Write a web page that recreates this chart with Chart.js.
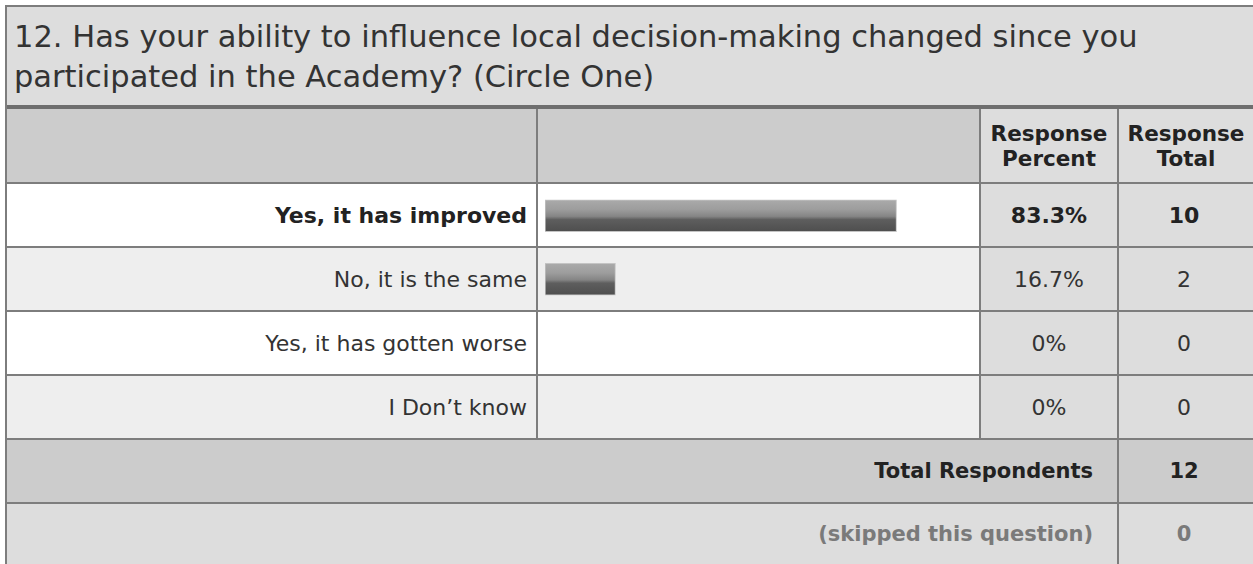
<!DOCTYPE html>
<html>
<head>
<meta charset="utf-8">
<script src="https://cdn.jsdelivr.net/npm/chart.js@4.4.1/dist/chart.umd.min.js"></script>
<style>
  html, body { margin: 0; padding: 0; background: #ffffff; }
  body { width: 1253px; height: 564px; position: relative; overflow: hidden; font-family: "DejaVu Sans", Verdana, sans-serif; }
  .abs { position: absolute; box-sizing: border-box; }
  .txt { position: absolute; box-sizing: border-box; white-space: nowrap; display: flex; align-items: center; }
</style>
</head>
<body>
<div id="root"></div>
<div id="chartBox" class="abs" style="left:538px; top:184px; width:441px; height:254px; z-index:5;">
  <canvas id="bars" width="441" height="254"></canvas>
</div>
<script>
// ---- data ----
const questionTitle = ["12. Has your ability to influence local decision-making changed since you",
                       "participated in the Academy? (Circle One)"];
const categories = ["Yes, it has improved", "No, it is the same", "Yes, it has gotten worse", "I Don\u2019t know"];
const responsePercent = [83.3, 16.7, 0, 0];
const responseTotal = [10, 2, 0, 0];
const headerPercent = ["Response", "Percent"];
const headerTotal = ["Response", "Total"];
const totalRespondents = 12;
const skippedQuestion = 0;

// ---- table frame ----
const root = document.getElementById('root');
function box(l, t, w, h, bg, z) {
  const d = document.createElement('div');
  d.className = 'abs';
  d.style.cssText = `left:${l}px;top:${t}px;width:${w}px;height:${h}px;background:${bg};z-index:${z||1};`;
  root.appendChild(d); return d;
}
function text(l, t, w, h, html, opts) {
  const d = document.createElement('div');
  d.className = 'txt';
  d.style.cssText = `left:${l}px;top:${t}px;width:${w}px;height:${h}px;z-index:10;` +
    `justify-content:${opts.align||'center'};font-size:${opts.size||22}px;font-weight:${opts.bold?'bold':'normal'};` +
    `color:${opts.color||'#333'};padding-right:${opts.pr||0}px;text-align:${opts.talign||'center'};line-height:${opts.lh||'normal'};`;
  d.innerHTML = html;
  root.appendChild(d); return d;
}

const W = 1253;
const xL = 7, c1 = 536, c2 = 979, c3 = 1117;
const LINE = '#7d7d7d';
// title band
box(xL, 7, W - xL, 98, '#dddddd');
const t = document.createElement('div');
t.className = 'abs';
t.style.cssText = 'left:14px;top:17px;font-size:30.5px;line-height:40px;color:#333;z-index:10;white-space:nowrap;';
t.innerHTML = questionTitle.join('<br>');
root.appendChild(t);

// header row
const hTop = 109, hBot = 182;
box(xL, hTop, c2 - xL, hBot - hTop, '#cccccc');
box(c2, hTop, W - c2, hBot - hTop, '#dddddd');
text(c2 + 2, hTop, c3 - c2 - 2, hBot - hTop, headerPercent.join('<br>'), {bold: true, size: 21.5, color: '#222', lh: '25px'});
text(c3 + 2, hTop, W - c3 - 2, hBot - hTop, headerTotal.join('<br>'), {bold: true, size: 21.5, color: '#222', lh: '25px'});

// data rows
const rowTops = [184, 248, 312, 376];
const rowH = 62;
const maxTotal = Math.max(...responseTotal);
categories.forEach((c, i) => {
  const top = rowTops[i];
  const bg = i % 2 === 0 ? '#ffffff' : '#eeeeee';
  const strong = responseTotal[i] === maxTotal;
  box(xL, top, c2 - xL, rowH, bg);
  box(c2, top, W - c2, rowH, '#dddddd');
  text(xL, top, c1 - xL, rowH, c, {align: 'flex-end', pr: 9, bold: strong, color: strong ? '#222' : '#333'});
  text(c2 + 2, top, c3 - c2 - 2, rowH, responsePercent[i] + '%', {bold: strong, color: strong ? '#222' : '#333'});
  text(c3 + 2, top, W - c3 - 2, rowH - 0, String(responseTotal[i]), {bold: strong, color: strong ? '#222' : '#333', pr: 4});
});

// total respondents row
box(xL, 440, W - xL, 62, '#cccccc');
text(xL, 440, c3 - xL, 62, 'Total Respondents', {align: 'flex-end', pr: 24, bold: true, size: 21, color: '#222'});
text(c3 + 2, 440, W - c3 - 2, 62, String(totalRespondents), {bold: true, size: 21, color: '#222', pr: 4});
// skipped row
box(xL, 504, W - xL, 60, '#dddddd');
text(xL, 504, c3 - xL, 60, '(skipped this question)', {align: 'flex-end', pr: 24, bold: true, size: 21, color: '#7a7a7a'});
text(c3 + 2, 504, W - c3 - 2, 60, String(skippedQuestion), {bold: true, size: 21, color: '#7a7a7a', pr: 4});

// grid lines
box(5, 5, W - 5, 2, LINE, 8);           // top border
box(5, 5, 2, 564, LINE, 8);             // left border
box(xL, 105, W - xL, 4, '#6e6e6e', 8);  // under title
[182, 246, 310, 374, 438, 502].forEach(y => box(xL, y, W - xL, 2, LINE, 8));
box(c1, hTop, 2, 438 - hTop, LINE, 8);
box(c2, hTop, 2, 440 - hTop, LINE, 8);
box(c3, hTop, 2, 564 - hTop, LINE, 8);

// ---- bars with Chart.js ----
const CLEAR = 'rgba(0,0,0,0)';
function barGradient(ctx) {
  if (ctx.type !== 'data' || !(ctx.raw > 0)) return CLEAR;
  const chart = ctx.chart;
  const ys = chart.scales && chart.scales.y;
  if (!ys) return '#777777';
  const cy = ys.getPixelForValue(ctx.dataIndex);
  if (!Number.isFinite(cy)) return '#777777';
  const g = chart.ctx.createLinearGradient(0, cy - 16, 0, cy + 16);
  g.addColorStop(0, '#aaaaaa');
  g.addColorStop(0.3, '#9d9d9d');
  g.addColorStop(0.52, '#858585');
  g.addColorStop(0.62, '#5e5e5e');
  g.addColorStop(1, '#4e4e4e');
  return g;
}
new Chart(document.getElementById('bars'), {
  type: 'bar',
  data: {
    labels: categories,
    datasets: [{
      data: responsePercent,
      backgroundColor: barGradient,
      borderColor: (ctx) => (ctx.raw > 0 ? '#c4c4c4' : CLEAR),
      borderWidth: (ctx) => (ctx.raw > 0 ? 1 : 0),
      borderSkipped: false,
      barThickness: 32
    }]
  },
  options: {
    indexAxis: 'y',
    responsive: false,
    animation: false,
    events: [],
    layout: { padding: { left: 7, right: 12, top: 0, bottom: 0 } },
    scales: {
      x: { display: false, min: 0, max: 100 },
      y: { display: false, offset: true }
    },
    plugins: { legend: { display: false }, tooltip: { enabled: false }, title: { display: false } }
  }
});
</script>
</body>
</html>
